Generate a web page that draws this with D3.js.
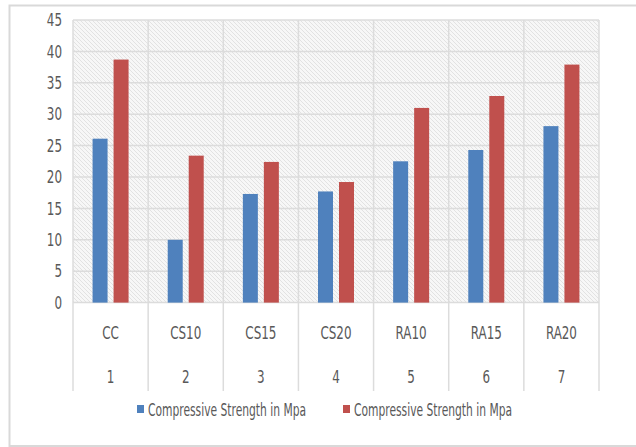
<!DOCTYPE html>
<html><head><meta charset="utf-8">
<script src="https://cdn.jsdelivr.net/npm/d3@7"></script>
<style>body{margin:0;background:#fff;}svg{display:block;}</style>
</head><body>
<svg id="c" width="636" height="447"></svg>
<script>
const categories = ["CC","CS10","CS15","CS20","RA10","RA15","RA20"];
const indexLabels = ["1","2","3","4","5","6","7"];
const series1 = [26.1, 10.0, 17.3, 17.7, 22.5, 24.3, 28.1];
const series2 = [38.7, 23.4, 22.4, 19.2, 31.0, 32.9, 37.9];
const seriesNames = ["Compressive Strength in Mpa","Compressive Strength in Mpa"];
const yTicks = [0,5,10,15,20,25,30,35,40,45];
const colors = ["#4f81bd","#c0504d"];

const font = "'Liberation Sans Narrow','DejaVu Sans Condensed',sans-serif";
const svg = d3.select("#c");
const L=73, R=599, T=20, B=302.6;

function narrow(sel, f){
  sel.each(function(){
    const w = this.getComputedTextLength();
    d3.select(this).attr("textLength", w*f).attr("lengthAdjust","spacingAndGlyphs");
  });
}

// outer frame
svg.append("rect").attr("x",9.5).attr("y",5.5).attr("width",640).attr("height",440.5)
  .attr("fill","#fff").attr("stroke","#d9d9d9").attr("stroke-width",2);

const defs = svg.append("defs");
const pat = defs.append("pattern").attr("id","hatch").attr("patternUnits","userSpaceOnUse")
  .attr("width",4).attr("height",4);
pat.append("rect").attr("width",4).attr("height",4).attr("fill","#f7f7f7");
pat.append("path").attr("d","M-1,-1 L5,5 M-1,3 L1,5 M3,-1 L5,1").attr("stroke","#e2e2e2").attr("stroke-width",1);

const x = d3.scaleBand().domain(categories).range([L,R]);
const y = d3.scaleLinear().domain([0,45]).range([B,T]);

svg.append("rect").attr("x",L).attr("y",T).attr("width",R-L).attr("height",B-T).attr("fill","url(#hatch)");

// horizontal grid
svg.append("g").selectAll("line").data(yTicks).join("line")
  .attr("x1",L).attr("x2",R).attr("y1",d=>y(d)).attr("y2",d=>y(d))
  .attr("stroke","#dcdcdc").attr("stroke-width",1.5);
// vertical grid / category separators
const seps = categories.map(c=>x(c)).concat([R]);
svg.append("g").selectAll("line").data(seps).join("line")
  .attr("x1",d=>d).attr("x2",d=>d).attr("y1",T).attr("y2",391)
  .attr("stroke","#dcdcdc").attr("stroke-width",1.5);

// bars
const bw = 15, gap = 6;
const xs = d3.scaleBand().domain([0,1]).range([0,bw*2+gap]).paddingInner(gap/(bw+gap));
[series1,series2].forEach((s,si)=>{
  svg.append("g").selectAll("rect").data(s).join("rect")
    .attr("x",(d,i)=>x(categories[i])+x.bandwidth()/2-(bw*2+gap)/2+xs(si))
    .attr("width",xs.bandwidth())
    .attr("y",d=>y(d)).attr("height",d=>y(0)-y(d))
    .attr("fill",colors[si]);
});

// y axis labels
svg.append("g").selectAll("text").data(yTicks).join("text")
  .attr("x",62).attr("y",d=>y(d)).attr("dy","0.36em").attr("text-anchor","end")
  .attr("font-family",font).attr("font-size",17).attr("fill","#595959").text(d=>d)
  .call(narrow,0.78);

// category labels
svg.append("g").selectAll("text").data(categories).join("text")
  .attr("x",d=>x(d)+x.bandwidth()/2).attr("y",333).attr("dy","0.36em").attr("text-anchor","middle")
  .attr("font-family",font).attr("font-size",17).attr("fill","#595959").text(d=>d)
  .call(narrow,0.78);
svg.append("g").selectAll("text").data(indexLabels).join("text")
  .attr("x",(d,i)=>x(categories[i])+x.bandwidth()/2).attr("y",377).attr("dy","0.36em").attr("text-anchor","middle")
  .attr("font-family",font).attr("font-size",17).attr("fill","#595959").text(d=>d)
  .call(narrow,0.78);

// legend
const legX = [137, 343];
seriesNames.forEach((n,i)=>{
  svg.append("rect").attr("x",legX[i]).attr("y",405).attr("width",7).attr("height",8).attr("fill",colors[i]);
  svg.append("text").attr("x",legX[i]+11).attr("y",410).attr("dy","0.36em")
    .attr("font-family",font).attr("font-size",17).attr("fill","#595959").text(n)
    .attr("textLength",158).attr("lengthAdjust","spacingAndGlyphs");
});
</script>
</body></html>
